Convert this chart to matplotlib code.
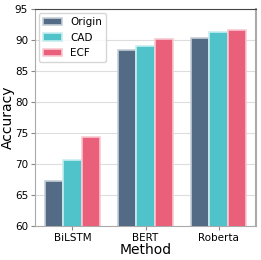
import matplotlib.pyplot as plt
import numpy as np

methods = ["BiLSTM", "BERT", "Roberta"]
series = ["Origin", "CAD", "ECF"]
origin = [67.3, 88.4, 90.3]
cad = [70.6, 89.0, 91.3]
ecf = [74.3, 90.1, 91.6]
colors = ["#536b84", "#4fc3c9", "#ea5f7a"]
edges = ["#c5ced8", "#c8eef0", "#f8c8d2"]

fig = plt.figure(figsize=(2.61, 2.60), dpi=100)
ax = fig.add_axes([0.134, 0.131, 0.847, 0.834])

x = np.arange(len(methods))
w = 0.25
for i, vals in enumerate([origin, cad, ecf]):
    ax.bar(x + (i - 1) * w, vals, w, color=colors[i], edgecolor=edges[i],
           linewidth=1.2, label=series[i], zorder=3)

ax.set_ylim(60, 95)
ax.set_yticks(range(60, 96, 5))
ax.set_xticks(x)
ax.set_xticklabels(methods)
ax.tick_params(labelsize=7.5, length=3, color="#888888", pad=2)
ax.grid(axis="y", color="#dddddd", linewidth=0.8, zorder=0)
ax.set_xlabel("Method", fontsize=10, labelpad=0)
ax.set_ylabel("Accuracy", fontsize=10)
ax.yaxis.set_label_coords(-0.09, 0.5)

for s in ["left", "bottom"]:
    ax.spines[s].set_color("#aaaaaa")
ax.spines["right"].set_color("#aaaaaa")
ax.spines["right"].set_linewidth(1.5)
ax.spines["top"].set_color("#444444")

ax.legend(loc="upper left", fontsize=7.5, frameon=True, handlelength=1.8,
          borderaxespad=0.4)
plt.savefig("out.png", dpi=100)
